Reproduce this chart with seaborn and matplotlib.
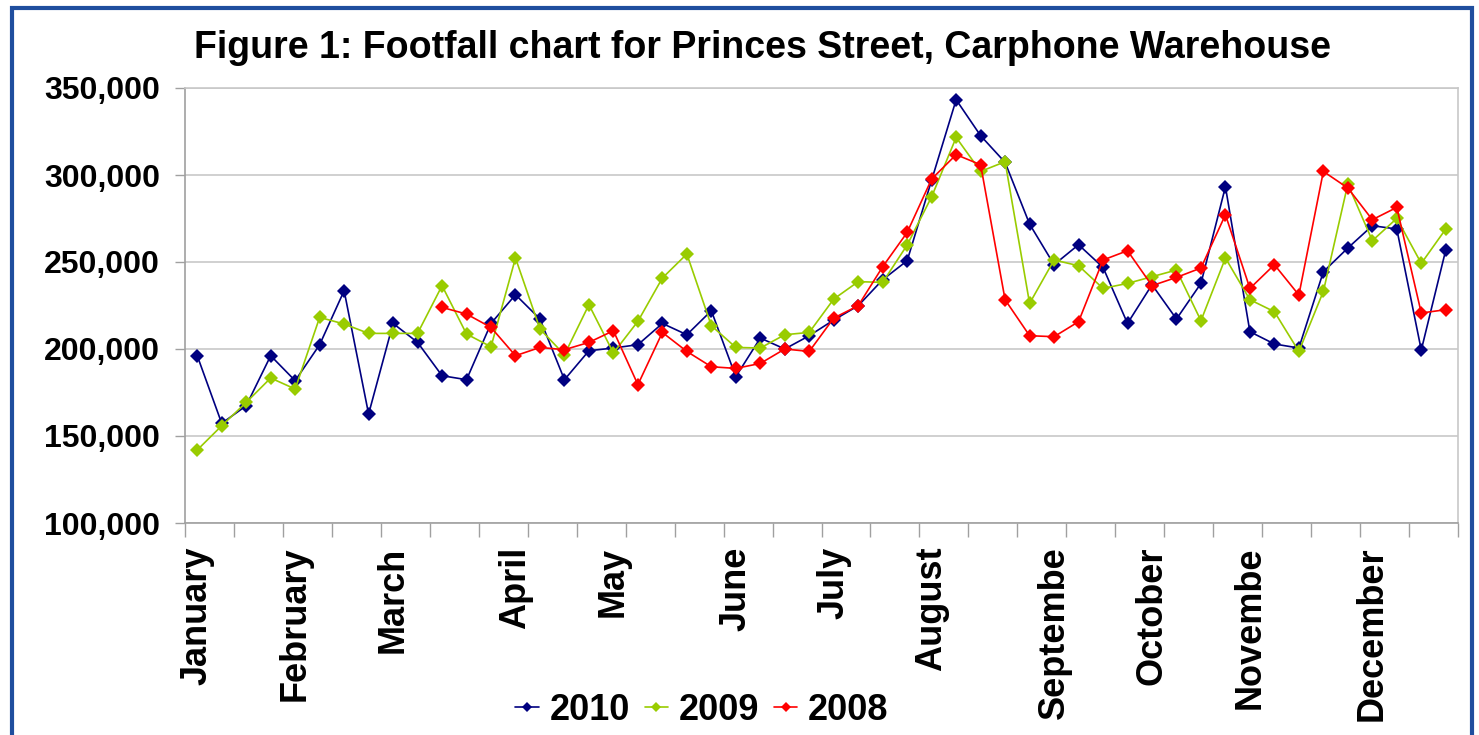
import numpy as np
import pandas as pd
import matplotlib
matplotlib.use("Agg")
import matplotlib.pyplot as plt
import matplotlib.ticker as mticker
from matplotlib.lines import Line2D
from matplotlib.patches import Rectangle
import seaborn as sns

# Weekly footfall, 52 weeks per year
footfall_2010 = [196150, 157260, 167400, 196150, 181780, 202470, 233500, 162650, 214700, 203800,
                 184650, 182360, 214700, 231200, 217240, 182360, 199000, 200570, 202470, 214700,
                 208200, 222000, 184100, 206300, 200000, 207640, 216660, 224880, 239830, 250750,
                 297100, 343270, 322580, 307250, 271800, 248450, 259940, 246900, 214700, 236950,
                 217240, 237700, 293270, 209940, 202870, 200570, 244400, 258040, 270860, 268960,
                 199400, 256900]
footfall_2009 = [141950, 155900, 169300, 183330, 177000, 218160, 214370, 208970, 208970, 208970,
                 236400, 208600, 201300, 252300, 211500, 196700, 225460, 197700, 215900, 240800,
                 254600, 213400, 200900, 200570, 208200, 209540, 228700, 238700, 238300, 259770,
                 287520, 321600, 302060, 307640, 226200, 251150, 247870, 234830, 237700, 241550,
                 245400, 216260, 252300, 228330, 221430, 198600, 233100, 294800, 262240, 275060,
                 249200, 268960]
# 2008 counts begin in week 11
footfall_2008 = [None] * 10 + [
                 223900, 220100, 212400, 196150, 200900, 199600, 203800, 210500, 179500, 209500,
                 198600, 189800, 188850, 191700, 200000, 198600, 217800, 224880, 247300, 267000,
                 297700, 311700, 305900, 228300, 207640, 207070, 215690, 251150, 256500, 236400,
                 241150, 246550, 277180, 234830, 248450, 231030, 302060, 292530, 274300, 281380,
                 220690, 222590]

years = ["2010", "2009", "2008"]
month_labels = ["January", "February", "March", "April", "May", "June", "July",
                "August", "Septembe", "October", "Novembe", "December"]
month_weeks = [0, 4, 8, 13, 17, 22, 26, 30, 35, 39, 43, 48]
y_ticks = [100000, 150000, 200000, 250000, 300000, 350000]

colors = {"2010": "#000080", "2009": "#99CC00", "2008": "#FF0000"}

weeks = np.arange(len(footfall_2010))
frames = []
for yr, vals in zip(years, [footfall_2010, footfall_2009, footfall_2008]):
    frames.append(pd.DataFrame({"week": weeks, "footfall": vals, "year": yr}))
df = pd.concat(frames, ignore_index=True).dropna()
df["footfall"] = df["footfall"].astype(float)

sns.set_theme(style="white")
plt.rcParams["font.family"] = ["Liberation Sans", "DejaVu Sans"]
plt.rcParams["font.weight"] = "bold"
plt.rcParams["text.color"] = "black"
plt.rcParams["xtick.color"] = "black"
plt.rcParams["ytick.color"] = "black"

W, H = 1479, 735
fig = plt.figure(figsize=(W / 100, H / 100), dpi=100)
fig.patch.set_facecolor("white")
ax = fig.add_axes([185 / W, 1 - 523 / H, (1458 - 185) / W, (523 - 88) / H])

sns.lineplot(data=df, x="week", y="footfall", hue="year", hue_order=years,
             palette=colors, marker="D", markersize=7, markeredgewidth=0,
             linewidth=1.2, sort=False, legend=False, ax=ax)

ax.set_xlim(-0.5, len(weeks) - 0.5)
ax.set_ylim(100000, 350000)
ax.set_xlabel("")
ax.set_ylabel("")

# y axis
ax.set_yticks(y_ticks)
ax.yaxis.set_major_formatter(mticker.FuncFormatter(lambda v, p: f"{int(v):,}"))
ax.tick_params(axis="y", which="major", length=7, width=1, color="#A0A0A0",
               labelcolor="black", labelsize=23, pad=11, left=True)
ax.grid(axis="y", color="#C8C8C8", linewidth=1.2)
ax.grid(axis="x", visible=False)

# x axis: month names at their weeks, tick marks every two weeks
ax.set_xticks(month_weeks)
ax.set_xticklabels(month_labels, rotation=90, va="top", ha="center")
ax.tick_params(axis="x", which="major", length=0, labelsize=26, pad=17,
               labelcolor="black")
ax.set_xticks(np.arange(-0.5, len(weeks), 2), minor=True)
ax.tick_params(axis="x", which="minor", length=10, width=1, color="#A0A0A0", bottom=True)
for lbl in ax.get_xticklabels() + ax.get_yticklabels():
    lbl.set_fontweight("bold")

for side, sp in ax.spines.items():
    sp.set_visible(True)
    sp.set_color("#C8C8C8" if side in ("top", "right") else "#A0A0A0")
    sp.set_linewidth(1.2)

fig.text(763 / W, 1 - 48 / H, "Figure 1: Footfall chart for Princes Street, Carphone Warehouse",
         ha="center", va="center", fontsize=27, fontweight="bold", color="black")

handles = [Line2D([0], [0], color=colors[y], marker="D", markersize=5,
                  markeredgewidth=0, linewidth=1.2) for y in years]
fig.legend(handles, years, loc="center", bbox_to_anchor=(702 / W, 1 - 710 / H),
           ncol=3, frameon=False, handlelength=0.65,
           handletextpad=0.3, columnspacing=0.4, prop={"weight": "bold", "size": 26})

fig.add_artist(Rectangle((12 / W, -0.05), (1472 - 12) / W, 1.05 - 8 / H,
                         transform=fig.transFigure, fill=False,
                         edgecolor="#1F4E9E", linewidth=3))

fig.savefig("out.png", dpi=100, facecolor="white")
